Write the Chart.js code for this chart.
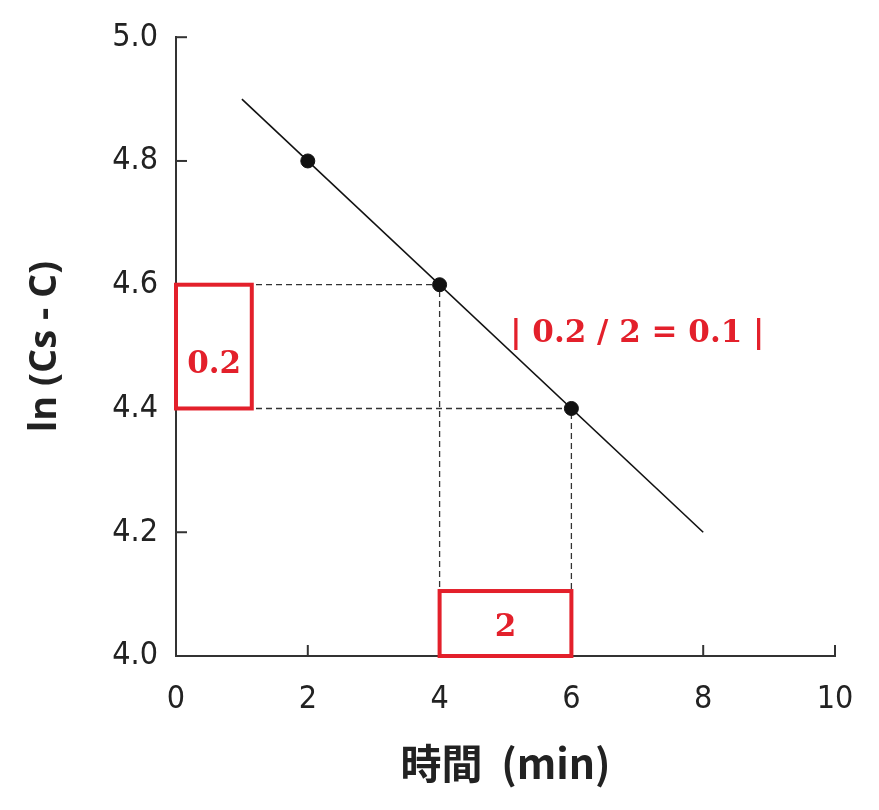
<!DOCTYPE html>
<html>
<head>
<meta charset="utf-8">
<script src="https://cdn.jsdelivr.net/npm/chart.js@4/dist/chart.umd.min.js"></script>
<style>
  html, body { margin: 0; padding: 0; background: #fff; }
  #wrap { width: 879px; height: 810px; }
</style>
</head>
<body>
<div id="wrap"><canvas id="slopeChart"></canvas></div>
<script>
// Data
const fitLine = [{ x: 1, y: 4.9 }, { x: 8, y: 4.2 }];
const measured = [{ x: 2, y: 4.8 }, { x: 4, y: 4.6 }, { x: 6, y: 4.4 }];
const guideUpper = [{ x: 0, y: 4.6 }, { x: 4, y: 4.6 }, { x: 4, y: 4.0 }];
const guideLower = [{ x: 0, y: 4.4 }, { x: 6, y: 4.4 }, { x: 6, y: 4.0 }];
const xTicks = [0, 2, 4, 6, 8, 10];
const yTicks = [4.0, 4.2, 4.4, 4.6, 4.8, 5.0];

// Highlight boxes and their labels, in data units
const boxes = [
    { x0: 0, x1: 1.15, y0: 4.4, y1: 4.6, text: '0.2', tx: 0.58, ty: 4.47 },
    { x0: 4, x1: 6, y0: 4.0, y1: 4.105, text: '2', tx: 5, ty: 4.045 }
];
const slopeNote = { text: '| 0.2 / 2 = 0.1 |', x: 7.0, y: 4.52 };

const RED = '#e3202b';
const AXIS = '#333';

// Inward tick marks, red boxes and red notes
const overlayPlugin = {
    id: 'overlay',
    afterDatasetsDraw(chart) {
        const { ctx, scales: { x, y } } = chart;
        ctx.save();

        // ticks pointing into the plot
        ctx.strokeStyle = AXIS;
        ctx.lineWidth = 2;
        xTicks.forEach(v => {
            const px = x.getPixelForValue(v);
            ctx.beginPath();
            ctx.moveTo(px, y.bottom);
            ctx.lineTo(px, y.bottom - 11);
            ctx.stroke();
        });
        yTicks.forEach(v => {
            const py = y.getPixelForValue(v);
            ctx.beginPath();
            ctx.moveTo(x.left, py);
            ctx.lineTo(x.left + 11, py);
            ctx.stroke();
        });

        // red boxes
        ctx.strokeStyle = RED;
        ctx.lineWidth = 4;
        ctx.fillStyle = RED;
        ctx.font = 'bold 31px "DejaVu Serif"';
        ctx.textAlign = 'center';
        ctx.textBaseline = 'middle';
        boxes.forEach(b => {
            const left = x.getPixelForValue(b.x0);
            const right = x.getPixelForValue(b.x1);
            const top = y.getPixelForValue(b.y1);
            const bottom = y.getPixelForValue(b.y0);
            ctx.strokeRect(left, top, right - left, bottom - top);
            ctx.fillText(b.text, x.getPixelForValue(b.tx), y.getPixelForValue(b.ty));
        });

        ctx.fillText(slopeNote.text, x.getPixelForValue(slopeNote.x), y.getPixelForValue(slopeNote.y));
        ctx.restore();
    }
};

const tickFont = { family: '"Liberation Sans Narrow", "DejaVu Sans Condensed", Roboto, sans-serif', size: 32 };

new Chart(document.getElementById('slopeChart'), {
    type: 'scatter',
    data: {
        datasets: [
            {
                label: 'guide upper',
                data: guideUpper,
                showLine: true,
                borderColor: AXIS,
                borderWidth: 1.3,
                borderDash: [6, 4],
                pointRadius: 0,
                order: 3
            },
            {
                label: 'guide lower',
                data: guideLower,
                showLine: true,
                borderColor: AXIS,
                borderWidth: 1.3,
                borderDash: [6, 4],
                pointRadius: 0,
                order: 3
            },
            {
                label: 'fit',
                data: fitLine,
                showLine: true,
                borderColor: '#111',
                borderWidth: 1.6,
                pointRadius: 0,
                order: 2
            },
            {
                label: 'measured',
                data: measured,
                showLine: false,
                backgroundColor: '#111',
                borderColor: '#111',
                pointRadius: 7,
                order: 1
            }
        ]
    },
    options: {
        responsive: true,
        maintainAspectRatio: false,
        animation: false,
        layout: {
            padding: { top: 35, right: 44, left: 22, bottom: 22 }
        },
        plugins: {
            legend: { display: false },
            tooltip: { enabled: false }
        },
        scales: {
            x: {
                type: 'linear',
                min: 0,
                max: 10,
                afterBuildTicks: scale => { scale.ticks = xTicks.map(v => ({ value: v })); },
                afterFit: scale => { scale.height = 132; },
                grid: { display: false, drawTicks: false },
                border: { display: true, color: AXIS, width: 2 },
                ticks: {
                    color: '#222',
                    font: tickFont,
                    padding: 24,
                    maxRotation: 0
                },
                title: {
                    display: true,
                    text: '時間  (min)',
                    color: '#222',
                    font: { family: '"Noto Sans CJK JP", "Noto Sans", sans-serif', size: 41, weight: 'bold' },
                    padding: 0
                }
            },
            y: {
                type: 'linear',
                min: 4.0,
                max: 5.0,
                afterBuildTicks: scale => { scale.ticks = yTicks.map(v => ({ value: v })); },
                afterFit: scale => { scale.width = 154; },
                grid: { display: false, drawTicks: false },
                border: { display: true, color: AXIS, width: 2 },
                ticks: {
                    color: '#222',
                    font: tickFont,
                    padding: 18,
                    callback: v => v.toFixed(1)
                },
                title: {
                    display: true,
                    text: 'ln (Cs - C)',
                    color: '#222',
                    font: { family: '"Open Sans", "Noto Sans", sans-serif', size: 38, weight: 'bold' },
                    padding: 0
                }
            }
        }
    },
    plugins: [overlayPlugin]
});
</script>
</body>
</html>
